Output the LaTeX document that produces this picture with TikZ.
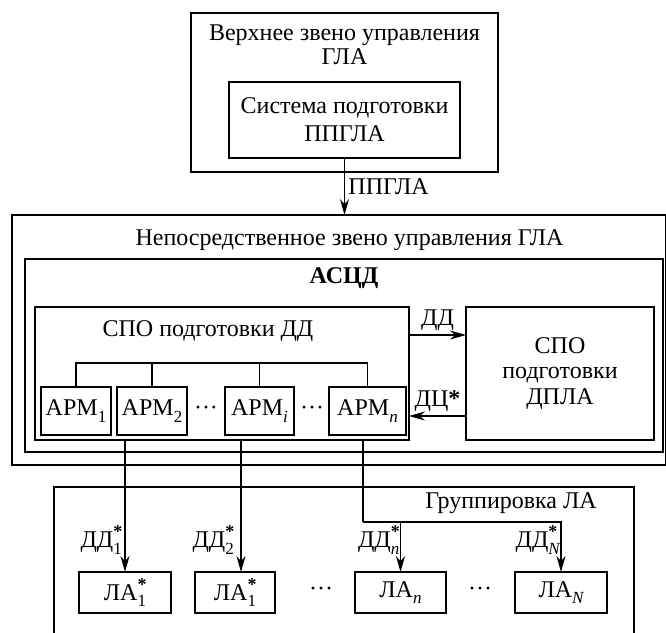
\documentclass[tikz,border=0pt]{standalone}
\usepackage{fontspec}
\setmainfont{Liberation Serif}
\usetikzlibrary{arrows.meta, positioning}

% index: star above, subscript below
\newcommand{\supsub}[2]{\rlap{\raisebox{0.42em}{\fontsize{18}{18}\selectfont\bfseries #1}}\raisebox{-0.28em}{\fontsize{17}{17}\selectfont #2}}
\newcommand{\subidx}[1]{\raisebox{-0.28em}{\fontsize{17}{17}\selectfont #1}}

\begin{document}
\begin{tikzpicture}[x=1pt, y=-1pt, >={Stealth[length=16pt,width=9pt]}, font=\fontsize{24}{24}\selectfont]
    \tikzset{
        frame/.style={rectangle, draw, line width=1.4pt, inner sep=0pt, outer sep=0pt, align=center},
        arm/.style={frame, minimum height=48pt},
        la/.style={frame, minimum height=41pt},
        lbl/.style={inner sep=1pt},
        line/.style={draw, line width=1.2pt}
    }
    \useasboundingbox (0,0) rectangle (666,632);

    % upper level
    \node (Verh) [frame, minimum width=307pt, minimum height=159pt] at (344.5,92.5) {};
    \node (VerhT) [align=center] at (344.5,45) {Верхнее звено управления\\ГЛА};
    \node (Sys) [frame, minimum width=231pt, minimum height=76pt, font=\fontsize{24}{28}\selectfont] at (344.5,120) {Система подготовки\\ППГЛА};

    % direct level
    \node (Nepo) [frame, minimum width=653.5pt, minimum height=250pt] at (338.75,340) {};
    \node (NepoT) at (349.5,240) {Непосредственное звено управления ГЛА};
    \node (Ascd) [frame, minimum width=638pt, minimum height=193pt] at (344,355.5) {};
    \node (AscdT) at (344,278) {\bfseries АСЦД};
    \node (SpoDD) [frame, minimum width=374pt, minimum height=133pt] at (222,373.5) {};
    \node (SpoDDT) at (208,331) {СПО подготовки ДД};
    \node (SpoDPLA) [frame, minimum width=188pt, minimum height=133pt, font=\fontsize{24}{25.5}\selectfont] at (560,373.5) {СПО\\подготовки\\ДПЛА};

    \node (Arm1) [arm, minimum width=70pt] at (76,411) {АРМ\subidx{1}};
    \node (Arm2) [arm, minimum width=70pt, right=6pt of Arm1] {АРМ\subidx{2}};
    \node (Armi) [arm, minimum width=69pt, right=38pt of Arm2] {АРМ\subidx{\itshape i}};
    \node (Armn) [arm, minimum width=77pt, right=35pt of Armi] {АРМ\subidx{\itshape n}};
    \node (Dots1) at (206,411) {···};
    \node (Dots2) at (312,411) {···};

    \draw[line] (Arm1.north) -- ++(0,-24) -| (Armn.north);
    \draw[line] (Arm2.north) -- ++(0,-24);
    \draw[line] (Armi.north) -- ++(0,-24);

    \draw[line,->] (Sys.south) -- node[right] {ППГЛА} (Sys.south |- Nepo.north);
    \draw[line,->] ([yshift=-28pt]SpoDD.north east) -- node[above] {ДД} ([yshift=-28pt]SpoDPLA.north west);
    \draw[line,->] ([yshift=24pt]SpoDPLA.south west) -- node[above] {ДЦ\textbf{*}} ([yshift=24pt]SpoDD.south east);

    % group of aircraft
    \node (Grp) [frame, minimum width=580pt, minimum height=170pt, anchor=north west] at (54,487) {};
    \node (GrpT) at (511,503) {Группировка ЛА};
    \node (La1) [la, minimum width=92pt] at (125,592.5) {ЛА\supsub{*}{1}};
    \node (La2) [la, minimum width=80pt] at (235,592.5) {ЛА\supsub{*}{1}};
    \node (Lan) [la, minimum width=91pt] at (400.5,592.5) {ЛА\subidx{\itshape n}};
    \node (LaN) [la, minimum width=92pt] at (561,592.5) {ЛА\subidx{\itshape N}};
    \node (Dots3) at (321,592) {···};
    \node (Dots4) at (480,592) {···};

    \coordinate (D2) at ([xshift=6pt]La2.north);
    \coordinate (Split) at (363,522);
    \draw[line,->] (SpoDD.south -| La1.north) -- (La1.north);
    \draw[line,->] (SpoDD.south -| D2) -- (D2);
    \draw[line] (SpoDD.south -| Split) -- (Split);
    \draw[line,->] (Split) -| (Lan.north);
    \draw[line,->] (Split) -| (LaN.north);

    \node (Lbl1) [lbl, left=2pt of La1.north, yshift=32pt] {ДД\supsub{*}{1}};
    \node (Lbl2) [lbl, left=6pt of D2, yshift=32pt] {ДД\supsub{*}{2}};
    \node (Lbln) [lbl, left=0pt of Lan.north, yshift=32pt] {ДД\supsub{*}{\itshape n}};
    \node (LblN) [lbl, left=0pt of LaN.north, yshift=32pt] {ДД\supsub{*}{\itshape N}};
\end{tikzpicture}
\end{document}
